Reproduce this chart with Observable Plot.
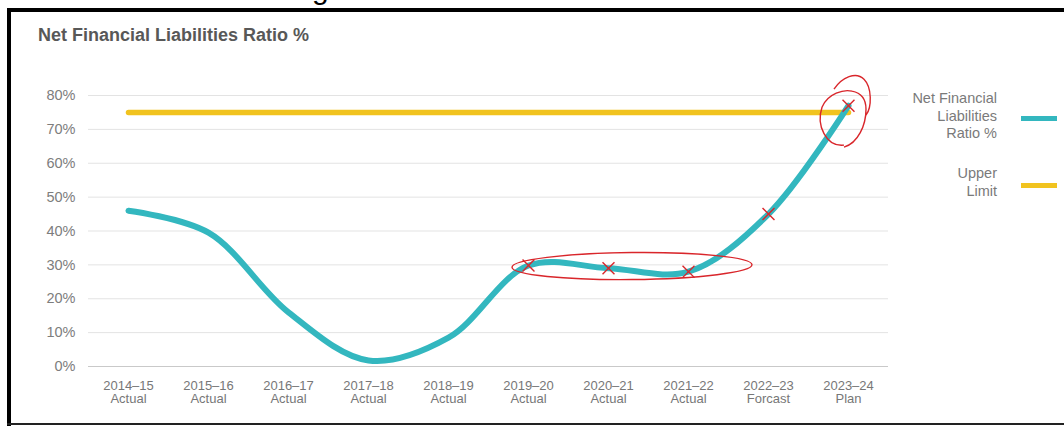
<!DOCTYPE html>
<html>
<head>
<meta charset="utf-8">
<script src="https://cdn.jsdelivr.net/npm/d3@7"></script>
<script src="https://cdn.jsdelivr.net/npm/@observablehq/plot@0.6"></script>
<style>
  body { margin: 0; background: #fff; font-family: "Liberation Sans", Arial, Helvetica, sans-serif; }
  #wrap { position: relative; width: 1064px; height: 426px; overflow: hidden; background: #fff; }
  #chart { position: absolute; left: 0; top: 0; }
  #title { position: absolute; left: 38px; top: 26px; font-size: 18px; line-height: 18px; font-weight: bold; color: #585858; white-space: nowrap; }
  .legtext { position: absolute; right: 67px; text-align: right; font-size: 14.5px; line-height: 17.5px; color: #7a7a7a; }
  .sw { position: absolute; left: 1021px; width: 36px; height: 5px; }
  .bt { position: absolute; left: 7px; top: 8px; width: 1057px; height: 4px; background: #000; }
  .bl { position: absolute; left: 7px; top: 8px; width: 4px; height: 418px; background: #000; }
  .bb { position: absolute; left: 7px; top: 423px; width: 1057px; height: 2px; background: #222; }
  #frag { position: absolute; left: 300px; top: 0; height: 7px; overflow: hidden; width: 60px; }
  #frag span { position: absolute; left: 12px; top: -26px; font-size: 30px; line-height: 30px; color: #000; }
</style>
</head>
<body>
<div id="wrap">
  <div id="frag"><span>g</span></div>
  <div class="bt"></div>
  <div class="bl"></div>
  <div class="bb"></div>
  <div id="title">Net Financial Liabilities Ratio %</div>
  <div id="chart"></div>
  <div class="legtext" style="top:90px">Net Financial<br>Liabilities<br>Ratio %</div>
  <div class="sw" style="top:116px; background:#33b7bf"></div>
  <div class="legtext" style="top:165px">Upper<br>Limit</div>
  <div class="sw" style="top:183px; background:#f1c31f"></div>
</div>
<script>
// ---- data ----
const years = ["2014–15", "2015–16", "2016–17", "2017–18", "2018–19", "2019–20", "2020–21", "2021–22", "2022–23", "2023–24"];
const status = ["Actual", "Actual", "Actual", "Actual", "Actual", "Actual", "Actual", "Actual", "Forcast", "Plan"];
const ratio = [46, 39.5, 16, 1.8, 8.5, 29.8, 29, 28, 45, 77];
const upperLimit = [75, 75, 75, 75, 75, 75, 75, 75, 75, 75];
const yTicks = [0, 10, 20, 30, 40, 50, 60, 70, 80];
const markedYears = ["2019–20", "2020–21", "2021–22", "2022–23", "2023–24"];

const teal = "#33b7bf";
const yellow = "#f1c31f";
const red = "#d9262b";

const lineData = years.map((y, i) => ({year: y, value: ratio[i]}));
const limitData = years.map((y, i) => ({year: y, value: upperLimit[i]}));
const markData = lineData.filter(d => markedYears.includes(d.year));
const statusOf = new Map(years.map((y, i) => [y, status[i]]));

// hand-drawn annotations positioned via the scales
function annotations(index, scales) {
  const g = d3.create("svg:g").attr("fill", "none").attr("stroke", red).attr("stroke-width", 1.4);
  const x1 = scales.x("2019–20"), x3 = scales.x("2021–22");
  const cy = scales.y(29.5);
  const cx = (x1 + x3) / 2 + 24;
  const rx = (x3 - x1) / 2 + 40;
  g.append("ellipse").attr("cx", cx).attr("cy", cy).attr("rx", rx).attr("ry", 13.5)
    .attr("transform", `rotate(-0.6 ${cx} ${cy})`);
  const px = scales.x("2023–24"), py = scales.y(77);
  const p = (dx, dy) => `${px + dx},${py + dy}`;
  g.append("path").attr("d",
    `M${p(-4, 40)} C${p(-22, 42)} ${p(-32, 20)} ${p(-26, 2)} C${p(-20, -12)} ${p(-4, -16)} ${p(4, -14)}`
    + ` C${p(14, -12)} ${p(18, -6)} ${p(18, 4)} C${p(18, 20)} ${p(10, 38)} ${p(-4, 42)}`
    + ` M${p(-14, -16)} C${p(-6, -28)} ${p(8, -34)} ${p(16, -26)} C${p(24, -18)} ${p(24, 2)} ${p(18, 10)}`);
  return g.node();
}

const chart = Plot.plot({
  width: 1064,
  height: 426,
  marginLeft: 88,
  marginRight: 176,
  marginTop: 95,
  marginBottom: 60,
  style: {fontFamily: "'Liberation Sans', Arial, Helvetica, sans-serif", fontSize: "13px", color: "#777", background: "transparent"},
  x: {type: "point", domain: years, padding: 0.46, label: null},
  y: {domain: [0, 80], label: null},
  marks: [
    Plot.ruleY(yTicks.filter(d => d > 0), {stroke: "#e3e3e3", strokeWidth: 1}),
    Plot.ruleY([0], {stroke: "#c9c9c9", strokeWidth: 1.2}),
    Plot.axisY(yTicks, {tickSize: 0, tickPadding: 13, tickFormat: d => d + "%", fontSize: 14.5, fill: "#7d7d7d", label: null}),
    Plot.axisX({tickSize: 0, tickPadding: 14, tickFormat: d => d + "\n" + statusOf.get(d), fontSize: 13, fill: "#777", lineHeight: 1.0, label: null}),
    Plot.line(limitData, {x: "year", y: "value", stroke: yellow, strokeWidth: 5.5, strokeLinecap: "round"}),
    Plot.line(lineData, {x: "year", y: "value", stroke: teal, strokeWidth: 6, curve: "catmull-rom", strokeLinecap: "round"}),
    Plot.dot(markData, {x: "year", y: "value", symbol: "times", r: 5.5, stroke: red, strokeWidth: 1.4}),
    annotations
  ]
});
document.getElementById("chart").appendChild(chart);
</script>
</body>
</html>
